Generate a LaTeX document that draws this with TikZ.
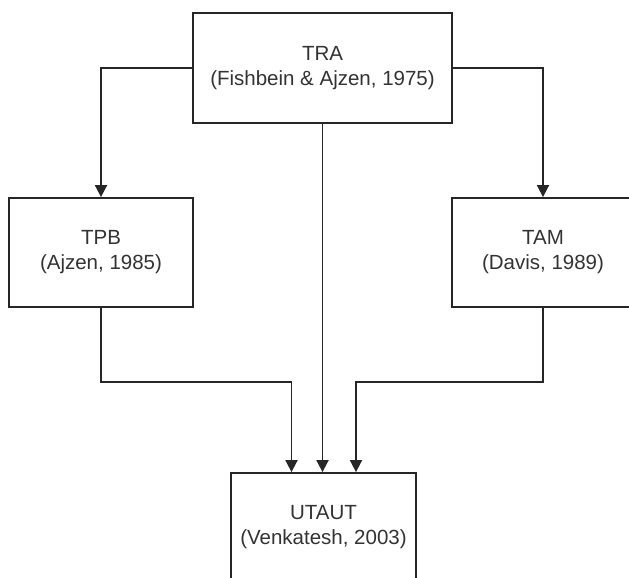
\documentclass[tikz,border=0pt]{standalone}
\usepackage{fontspec}
\setmainfont{Liberation Sans}
\usetikzlibrary{arrows.meta}
\begin{document}
\begin{tikzpicture}[x=1pt,y=-1pt,
  model/.style={draw=black!85, line width=1.8pt, fill=white, rectangle,
    align=center, inner sep=0pt, text=black!80,
    font=\fontsize{20.5}{25}\selectfont},
  arr/.style={draw=black!85, line width=1.8pt,
    -{Triangle[width=12pt,length=12pt]}}]
\useasboundingbox (0,0) rectangle (629,578);
\clip (0,0) rectangle (629,578);
\fill[white] (0,0) rectangle (629,578);

\node[model, minimum width=259pt, minimum height=110pt] (tra) at (322.5,68)
  {TRA\\(Fishbein \& Ajzen, 1975)};
\node[model, minimum width=184pt, minimum height=109pt] (tpb) at (101,252.5)
  {TPB\\(Ajzen, 1985)};
\node[model, minimum width=182pt, minimum height=109pt] (tam) at (543,252.5)
  {TAM\\(Davis, 1989)};
\node[model, minimum width=185pt, minimum height=108pt] (utaut) at (323.5,527)
  {UTAUT\\(Venkatesh, 2003)};

\draw[arr] (tra.west) -| (tpb.north);
\draw[arr] (tra.east) -| (tam.north);
\draw[arr] (tra.south) -- (tra.south |- utaut.north);
\draw[arr] (tpb.south) -- ++(0,74) -| ([xshift=-32pt]utaut.north);
\draw[arr] (tam.south) -- ++(0,74) -| ([xshift=32.5pt]utaut.north);
\end{tikzpicture}
\end{document}
